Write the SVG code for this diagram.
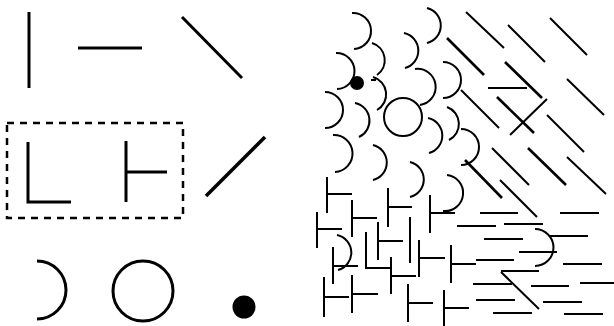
<svg xmlns="http://www.w3.org/2000/svg" width="614" height="326" viewBox="0 0 614 326">
<style>
.k{stroke:#000;fill:none;stroke-linecap:butt}
.big{stroke-width:3}
.sm{stroke-width:2}
.th{stroke-width:2.6}
</style>
<rect width="614" height="326" fill="#fff"/>
<g id="legend">
  <g id="vline" class="k big"><line x1="29" y1="12" x2="29" y2="88"/></g>
  <g id="hline" class="k big"><line x1="78" y1="48" x2="142" y2="48"/></g>
  <g id="dline" class="k big"><line x1="182" y1="17" x2="242" y2="78"/></g>
  <g id="box" class="k"><rect x="7" y="123" width="176" height="95" stroke-width="2.5" stroke-dasharray="7 6"/></g>
  <g id="lshape" class="k big"><polyline points="28,142 28,202 71,202"/></g>
  <g id="tshape" class="k big"><line x1="126" y1="141" x2="126" y2="202"/><line x1="126" y1="172" x2="167" y2="172"/></g>
  <g id="slash" class="k" stroke-width="3.5"><line x1="206" y1="196" x2="265" y2="137"/></g>
  <g id="arc" class="k big"><path d="M37 261 A29 29 0 0 1 37 319"/></g>
  <g id="circle" class="k big"><circle cx="143" cy="291" r="30"/></g>
  <g id="dot"><circle cx="244" cy="307" r="11.5" fill="#000"/></g>
</g>
<g id="texture">
  <g id="arcs" class="k sm">
    <path d="M352 13 A18 18 0 0 1 354 49"/>
    <path d="M427 8 A18 18 0 0 1 427 43"/>
    <path d="M404 33 A18 18 0 0 1 405 68"/>
    <path d="M372 43 A18 18 0 0 1 377 75"/>
    <path d="M336 53 A18 18 0 0 1 337 89"/>
    <path d="M373 77 A18 18 0 0 1 377 110"/>
    <line x1="371" y1="80" x2="376" y2="80"/>
    <path d="M415 69 A18 18 0 0 1 420 105"/>
    <path d="M443 62 A18 18 0 0 1 443 98"/>
    <path d="M325 92 A18 18 0 0 1 325 128"/>
    <path d="M355 103 A18 18 0 0 1 359 137"/>
    <path d="M428 118 A18 18 0 0 1 429 153"/>
    <path d="M447 107 A18 18 0 0 1 449 140"/>
    <path d="M461 129 A18 18 0 0 1 461 165"/>
    <path d="M333 135 A18 18 0 0 1 335 172"/>
    <path d="M373 145 A18 18 0 0 1 373 180"/>
    <path d="M410 162 A18 18 0 0 1 410 197"/>
    <path d="M447 175 A18 18 0 0 1 443 211"/>
    <path d="M337 235 A18 18 0 0 1 338 270"/>
    <path d="M535 229 A18 18 0 0 1 535 266"/>
    <circle cx="403" cy="117" r="19"/>
  </g>
  <g id="spot"><circle cx="357" cy="83" r="7" fill="#000"/></g>
  <g id="diagonals" class="k sm">
    <line x1="466" y1="12" x2="504" y2="48"/>
    <line x1="508" y1="25" x2="545" y2="62"/>
    <line x1="550" y1="18" x2="587" y2="55"/>
    <line x1="447" y1="38" x2="484" y2="75" class="th"/>
    <line x1="505" y1="62" x2="542" y2="98" class="th"/>
    <line x1="567" y1="79" x2="604" y2="115"/>
    <line x1="461" y1="90" x2="499" y2="128"/>
    <line x1="497" y1="97" x2="534" y2="133" class="th"/>
    <line x1="547" y1="115" x2="584" y2="152"/>
    <line x1="492" y1="148" x2="529" y2="185"/>
    <line x1="528" y1="148" x2="566" y2="185" class="th"/>
    <line x1="567" y1="157" x2="606" y2="194"/>
    <line x1="465" y1="160" x2="502" y2="198" class="th"/>
    <line x1="500" y1="180" x2="537" y2="217"/>
    <line x1="501" y1="272" x2="539" y2="309"/>
    <line x1="510" y1="135" x2="547" y2="99"/>
    <line x1="488" y1="88" x2="527" y2="88"/>
  </g>
  <g id="tees" class="k sm">
    <path d="M327 177V213M327 194H352"/>
    <path d="M352 200V237M352 218H377"/>
    <path d="M388 188V227M388 207H412"/>
    <path d="M430 195V233M430 213H455"/>
    <path d="M317 212V248M317 229H342"/>
    <path d="M378 222V260M378 241H403"/>
    <path d="M410 217V263"/>
    <path d="M366 232V268H392"/>
    <path d="M391 257V294M391 276H416"/>
    <path d="M419 240V277M419 258H445"/>
    <path d="M451 245V283M451 264H476"/>
    <path d="M333 247V284M333 266H358"/>
    <path d="M324 277V317M324 297H349"/>
    <path d="M352 275V313M352 294H378"/>
    <path d="M408 284V322M408 303H433"/>
    <path d="M444 290V326M444 308H469"/>
  </g>
  <g id="dashes" class="k sm">
    <line x1="480" y1="213" x2="518" y2="213"/>
    <line x1="560" y1="213" x2="599" y2="213"/>
    <line x1="457" y1="226" x2="496" y2="226"/>
    <line x1="504" y1="224" x2="543" y2="224"/>
    <line x1="484" y1="239" x2="523" y2="239"/>
    <line x1="550" y1="236" x2="588" y2="236"/>
    <line x1="519" y1="252" x2="557" y2="252"/>
    <line x1="476" y1="260" x2="514" y2="260"/>
    <line x1="563" y1="264" x2="602" y2="264"/>
    <line x1="501" y1="271" x2="539" y2="271"/>
    <line x1="473" y1="284" x2="512" y2="284"/>
    <line x1="531" y1="286" x2="569" y2="286"/>
    <line x1="580" y1="283" x2="614" y2="283"/>
    <line x1="476" y1="300" x2="515" y2="300"/>
    <line x1="543" y1="302" x2="582" y2="302"/>
    <line x1="493" y1="313" x2="532" y2="313"/>
    <line x1="564" y1="314" x2="603" y2="314"/>
  </g>
</g>
</svg>
